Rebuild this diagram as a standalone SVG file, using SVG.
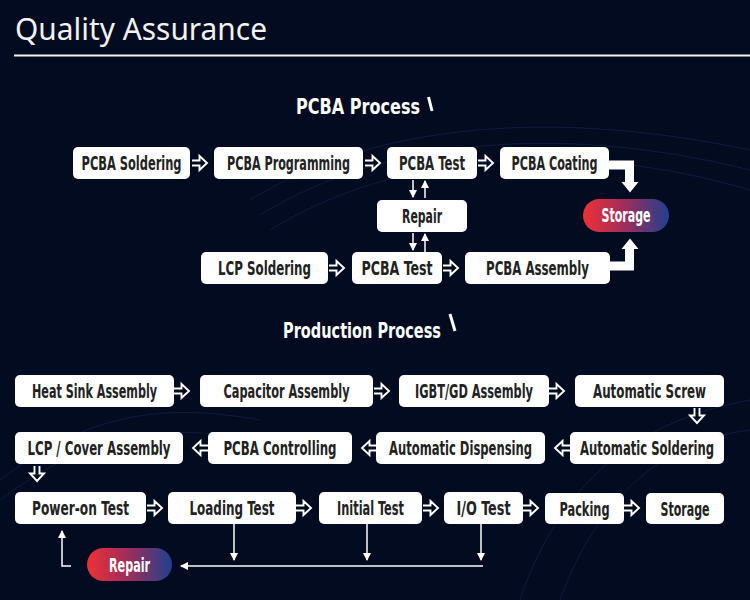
<svg xmlns="http://www.w3.org/2000/svg" width="750" height="600" viewBox="0 0 750 600">
<defs>
<linearGradient id="pill" x1="0" y1="0" x2="1" y2="0">
<stop offset="0" stop-color="#ef3036"/>
<stop offset="0.5" stop-color="#9a2e5c"/>
<stop offset="1" stop-color="#20408f"/>
</linearGradient>
<path id="ha" d="M0,-2.5 H7.5 V-7 L15,0 L7.5,7 V2.5 H0" fill="none" stroke="#ffffff" stroke-width="1.9" stroke-linejoin="miter"/>
<marker id="ah" viewBox="0 0 8 8" refX="7" refY="4" markerWidth="8" markerHeight="8" markerUnits="userSpaceOnUse" orient="auto">
<path d="M0,0 L8,4 L0,8 Z" fill="#ffffff"/>
</marker>
</defs>
<style>
.node rect{fill:#ffffff}
.nt{font-family:"Liberation Sans Narrow","DejaVu Sans Condensed","Liberation Sans",sans-serif;font-weight:bold;font-size:19px;fill:#222222;text-anchor:middle}
.pt{font-family:"Liberation Sans Narrow","DejaVu Sans Condensed","Liberation Sans",sans-serif;font-weight:bold;font-size:19px;fill:#ffffff;text-anchor:middle}
.hd{font-family:"Liberation Sans Narrow","DejaVu Sans Condensed","Liberation Sans",sans-serif;font-weight:bold;fill:#ffffff}
.thin{fill:none;stroke:#ffffff;stroke-width:1.5}
.thick{fill:none;stroke:#ffffff;stroke-width:9}
</style>
<rect x="0" y="0" width="750" height="600" fill="#030b21"/>
<g id="background" fill="none" stroke="#1b2b4f" stroke-width="1" opacity="0.5">
<path d="M250,200 C380,120 560,110 750,150"/>
<path d="M260,215 C390,135 570,125 750,170"/>
<path d="M270,230 C400,150 580,140 750,190"/>
<path d="M0,480 C80,420 150,400 260,420"/>
<path d="M0,500 C80,440 150,420 260,440"/>
<path d="M520,600 C560,480 640,420 750,400"/>
<path d="M560,600 C600,490 670,440 750,430"/>
</g>
<g id="title">
<text x="15" y="40" font-family="'Noto Sans','Open Sans',sans-serif" font-size="30" fill="#f2f2f2" textLength="252" lengthAdjust="spacingAndGlyphs">Quality Assurance</text>
<rect x="14" y="54.5" width="736" height="2" fill="#f2f2f2"/>
</g>
<g id="heading-pcba">
<text class="hd" x="0" y="0" font-size="21" transform="translate(296,114) scale(0.85,1)" textLength="145.9" lengthAdjust="spacingAndGlyphs">PCBA Process</text>
<line x1="428.5" y1="97" x2="432" y2="111" stroke="#ffffff" stroke-width="3"/>
</g>
<g id="heading-production">
<text class="hd" x="0" y="0" font-size="22" transform="translate(283,338) scale(0.75,1)" textLength="210.7" lengthAdjust="spacingAndGlyphs">Production Process</text>
<line x1="450" y1="314" x2="455" y2="331" stroke="#ffffff" stroke-width="3"/>
</g>
<g id="connectors">
<use href="#ha" x="192" y="163"/>
<use href="#ha" x="365" y="163"/>
<use href="#ha" x="478" y="163"/>
<use href="#ha" x="329" y="268"/>
<use href="#ha" x="443" y="268"/>
<line class="thin" x1="413" y1="180" x2="413" y2="197" marker-end="url(#ah)"/>
<line class="thin" x1="425" y1="198" x2="425" y2="181" marker-end="url(#ah)"/>
<line class="thin" x1="413" y1="233" x2="413" y2="250" marker-end="url(#ah)"/>
<line class="thin" x1="425" y1="252" x2="425" y2="234" marker-end="url(#ah)"/>
<path class="thick" d="M609,165 H629.5 V183"/>
<polygon points="621.5,182 638.5,182 630,192.5" fill="#ffffff"/>
<path class="thick" d="M610,266 H629.5 V248"/>
<polygon points="621.5,249 638.5,249 630,238.5" fill="#ffffff"/>
<use href="#ha" x="174" y="391"/>
<use href="#ha" x="374" y="391"/>
<use href="#ha" x="549" y="391"/>
<use href="#ha" transform="translate(697,408) rotate(90)"/>
<use href="#ha" transform="translate(570,448) rotate(180)"/>
<use href="#ha" transform="translate(377,448) rotate(180)"/>
<use href="#ha" transform="translate(208,448) rotate(180)"/>
<use href="#ha" transform="translate(37,466) rotate(90)"/>
<use href="#ha" x="147" y="508"/>
<use href="#ha" x="296" y="508"/>
<use href="#ha" x="423" y="508"/>
<use href="#ha" x="523" y="508"/>
<use href="#ha" x="624" y="508"/>
<line class="thin" x1="234" y1="524" x2="234" y2="560" marker-end="url(#ah)"/>
<line class="thin" x1="367" y1="524" x2="367" y2="560" marker-end="url(#ah)"/>
<line class="thin" x1="481" y1="524" x2="481" y2="560" marker-end="url(#ah)"/>
<line class="thin" x1="483" y1="566" x2="181" y2="566" marker-end="url(#ah)"/>
<path class="thin" d="M71,566 H62 V531" marker-end="url(#ah)"/>
</g>
<g id="pcba-soldering" class="node"><rect x="73" y="147" width="117" height="32" rx="5"/><text class="nt" x="0" y="0" transform="translate(131.5,170) scale(0.75,1)" textLength="133.3" lengthAdjust="spacingAndGlyphs">PCBA Soldering</text></g>
<g id="pcba-programming" class="node"><rect x="214" y="147" width="149" height="32" rx="5"/><text class="nt" x="0" y="0" transform="translate(288.5,170) scale(0.75,1)" textLength="164" lengthAdjust="spacingAndGlyphs">PCBA Programming</text></g>
<g id="pcba-test-1" class="node"><rect x="387" y="147" width="90" height="32" rx="5"/><text class="nt" x="0" y="0" transform="translate(432,170) scale(0.75,1)" textLength="88" lengthAdjust="spacingAndGlyphs">PCBA Test</text></g>
<g id="pcba-coating" class="node"><rect x="500" y="147" width="109" height="32" rx="5"/><text class="nt" x="0" y="0" transform="translate(554.5,170) scale(0.75,1)" textLength="114.7" lengthAdjust="spacingAndGlyphs">PCBA Coating</text></g>
<g id="repair-1" class="node"><rect x="377" y="200" width="90" height="32" rx="5"/><text class="nt" x="0" y="0" transform="translate(422,223) scale(0.75,1)" textLength="53.3" lengthAdjust="spacingAndGlyphs">Repair</text></g>
<g id="lcp-soldering" class="node"><rect x="201" y="252" width="127" height="32" rx="5"/><text class="nt" x="0" y="0" transform="translate(264.5,275) scale(0.75,1)" textLength="124" lengthAdjust="spacingAndGlyphs">LCP  Soldering</text></g>
<g id="pcba-test-2" class="node"><rect x="352" y="252" width="90" height="32" rx="5"/><text class="nt" x="0" y="0" transform="translate(397,275) scale(0.75,1)" textLength="94.7" lengthAdjust="spacingAndGlyphs">PCBA  Test</text></g>
<g id="pcba-assembly" class="node"><rect x="465" y="252" width="145" height="32" rx="5"/><text class="nt" x="0" y="0" transform="translate(537.5,275) scale(0.75,1)" textLength="137.3" lengthAdjust="spacingAndGlyphs">PCBA  Assembly</text></g>
<g id="storage-1"><rect x="583" y="199" width="86" height="33" rx="16.5" fill="url(#pill)"/><text class="pt" x="0" y="0" transform="translate(626,222) scale(0.75,1)" textLength="65.3" lengthAdjust="spacingAndGlyphs">Storage</text></g>
<g id="heat-sink-assembly" class="node"><rect x="15" y="375" width="159" height="32" rx="5"/><text class="nt" x="0" y="0" transform="translate(94.5,398) scale(0.75,1)" textLength="166.7" lengthAdjust="spacingAndGlyphs">Heat Sink Assembly</text></g>
<g id="capacitor-assembly" class="node"><rect x="200" y="375" width="173" height="32" rx="5"/><text class="nt" x="0" y="0" transform="translate(286.5,398) scale(0.75,1)" textLength="168" lengthAdjust="spacingAndGlyphs">Capacitor Assembly</text></g>
<g id="igbt-gd-assembly" class="node"><rect x="399" y="375" width="150" height="32" rx="5"/><text class="nt" x="0" y="0" transform="translate(474,398) scale(0.75,1)" textLength="157.3" lengthAdjust="spacingAndGlyphs">IGBT/GD Assembly</text></g>
<g id="automatic-screw" class="node"><rect x="575" y="375" width="149" height="32" rx="5"/><text class="nt" x="0" y="0" transform="translate(649.5,398) scale(0.75,1)" textLength="150.7" lengthAdjust="spacingAndGlyphs">Automatic  Screw</text></g>
<g id="lcp-cover-assembly" class="node"><rect x="15" y="432" width="168" height="32" rx="5"/><text class="nt" x="0" y="0" transform="translate(99,455) scale(0.75,1)" textLength="190.7" lengthAdjust="spacingAndGlyphs">LCP /  Cover Assembly</text></g>
<g id="pcba-controlling" class="node"><rect x="208" y="432" width="144" height="32" rx="5"/><text class="nt" x="0" y="0" transform="translate(280,455) scale(0.75,1)" textLength="150.7" lengthAdjust="spacingAndGlyphs">PCBA  Controlling</text></g>
<g id="automatic-dispensing" class="node"><rect x="376" y="432" width="169" height="32" rx="5"/><text class="nt" x="0" y="0" transform="translate(460.5,455) scale(0.75,1)" textLength="190.7" lengthAdjust="spacingAndGlyphs">Automatic  Dispensing</text></g>
<g id="automatic-soldering" class="node"><rect x="570" y="432" width="154" height="32" rx="5"/><text class="nt" x="0" y="0" transform="translate(647,455) scale(0.75,1)" textLength="178.7" lengthAdjust="spacingAndGlyphs">Automatic  Soldering</text></g>
<g id="power-on-test" class="node"><rect x="15" y="492" width="131" height="32" rx="5"/><text class="nt" x="0" y="0" transform="translate(80.5,515) scale(0.75,1)" textLength="129.3" lengthAdjust="spacingAndGlyphs">Power-on  Test</text></g>
<g id="loading-test" class="node"><rect x="168" y="492" width="128" height="32" rx="5"/><text class="nt" x="0" y="0" transform="translate(232,515) scale(0.75,1)" textLength="113.3" lengthAdjust="spacingAndGlyphs">Loading  Test</text></g>
<g id="initial-test" class="node"><rect x="319" y="492" width="103" height="32" rx="5"/><text class="nt" x="0" y="0" transform="translate(370.5,515) scale(0.75,1)" textLength="89.3" lengthAdjust="spacingAndGlyphs">Initial Test</text></g>
<g id="io-test" class="node"><rect x="444" y="492" width="79" height="32" rx="5"/><text class="nt" x="0" y="0" transform="translate(483.5,515) scale(0.75,1)" textLength="72" lengthAdjust="spacingAndGlyphs">I/O  Test</text></g>
<g id="packing" class="node"><rect x="545" y="493" width="79" height="31" rx="5"/><text class="nt" x="0" y="0" transform="translate(584.5,516) scale(0.75,1)" textLength="66.7" lengthAdjust="spacingAndGlyphs">Packing</text></g>
<g id="storage-2" class="node"><rect x="646" y="493" width="78" height="31" rx="5"/><text class="nt" x="0" y="0" transform="translate(685,516) scale(0.75,1)" textLength="65.3" lengthAdjust="spacingAndGlyphs">Storage</text></g>
<g id="repair-2"><rect x="87" y="548" width="85" height="33" rx="16.5" fill="url(#pill)"/><text class="pt" x="0" y="0" transform="translate(129.5,572) scale(0.75,1)" textLength="54.7" lengthAdjust="spacingAndGlyphs">Repair</text></g>
</svg>
